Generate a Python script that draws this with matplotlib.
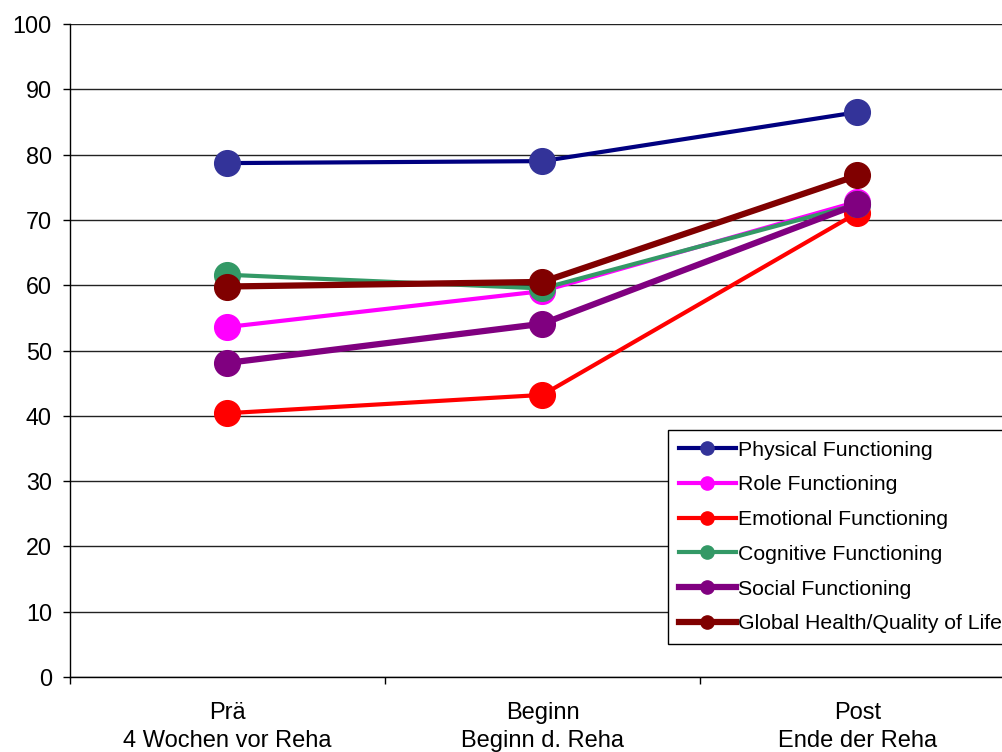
import numpy as np
import matplotlib.pyplot as plt
from matplotlib.lines import Line2D

plt.rcParams['font.family'] = ['Liberation Sans', 'DejaVu Sans']

zeitpunkte = ['Prä\n4 Wochen vor Reha', 'Beginn\nBeginn d. Reha', 'Post\nEnde der Reha']

physical = [78.7, 79.0, 86.5]
role = [53.6, 59.1, 72.8]
emotional = [40.4, 43.2, 71.1]
cognitive = [61.6, 59.5, 72.4]
social = [48.1, 54.1, 72.4]
global_health = [59.8, 60.5, 76.8]

serien = [
    ('Physical Functioning', physical, '#000080', '#333399', 3.0),
    ('Role Functioning', role, '#FF00FF', '#FF00FF', 3.0),
    ('Emotional Functioning', emotional, '#FF0000', '#FF0000', 3.0),
    ('Cognitive Functioning', cognitive, '#339966', '#339966', 3.0),
    ('Social Functioning', social, '#800080', '#800080', 4.5),
    ('Global Health/Quality of Life', global_health, '#800000', '#800000', 4.5),
]

fig = plt.figure(figsize=(10.03, 7.52), dpi=100)
ax = fig.add_axes([70 / 1003, 75 / 752, 945 / 1003, 653 / 752])

x = np.arange(len(zeitpunkte))
handles = []
for name, werte, farbe, mfarbe, lw in serien:
    ax.plot(x, werte, color=farbe, linewidth=lw, marker='o', markersize=18.5,
            markerfacecolor=mfarbe, markeredgecolor=mfarbe, zorder=3)
    handles.append(Line2D([], [], color=farbe, linewidth=lw, marker='o', markersize=9.5,
                          markerfacecolor=mfarbe, markeredgecolor=mfarbe))

ax.set_xlim(-0.5, 2.5)
ax.set_ylim(0, 100)
ax.set_yticks(np.arange(0, 101, 10))
ax.set_xticks(x)
ax.set_xticklabels(zeitpunkte, linespacing=1.38)
ax.set_xticks([-0.5, 0.5, 1.5, 2.5], minor=True)
ax.tick_params(axis='x', which='major', length=0, pad=18, labelsize=17)
ax.tick_params(axis='x', which='minor', length=5, width=1, direction='out')
ax.tick_params(axis='y', length=5, width=1, direction='out', pad=8, labelsize=16.8)

ax.grid(axis='y', color='#222222', linewidth=1)
ax.set_axisbelow(True)
for s in ['top', 'right']:
    ax.spines[s].set_visible(False)
for s in ['left', 'bottom']:
    ax.spines[s].set_color('black')
    ax.spines[s].set_linewidth(1)

leg = fig.legend(handles, [s[0] for s in serien], loc='upper left',
                 bbox_to_anchor=(668 / 1003, (752 - 430) / 752),
                 fontsize=15.3, frameon=True, fancybox=False, edgecolor='black',
                 framealpha=1, handlelength=2.7, handletextpad=0.1,
                 labelspacing=0.74, borderpad=0.5, borderaxespad=0)
leg.get_frame().set_linewidth(1)

fig.savefig('out.png', dpi=100)
